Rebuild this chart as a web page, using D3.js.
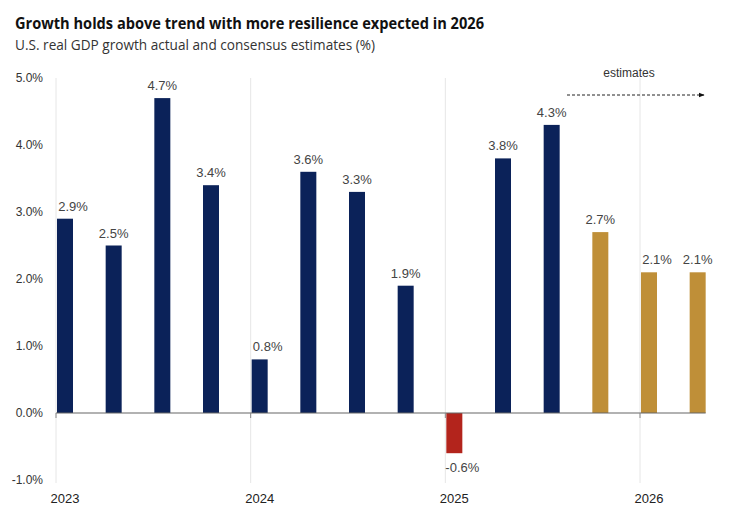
<!DOCTYPE html>
<html>
<head>
<meta charset="utf-8">
<script src="https://cdn.jsdelivr.net/npm/d3@7"></script>
<style>
  body { margin: 0; background: #fff; }
  svg { display: block; }
</style>
</head>
<body>
<script>
// chart data
var quarters = ["2023Q1","2023Q2","2023Q3","2023Q4","2024Q1","2024Q2","2024Q3","2024Q4",
                "2025Q1","2025Q2","2025Q3","2025Q4","2026Q1","2026Q2"];
var growth = [2.9, 2.5, 4.7, 3.4, 0.8, 3.6, 3.3, 1.9, -0.6, 3.8, 4.3, 2.7, 2.1, 2.1];
var isEstimate = [0,0,0,0,0,0,0,0,0,0,0,1,1,1];
var years = ["2023", "2024", "2025", "2026"];
var yTicks = [-1, 0, 1, 2, 3, 4, 5];

var w = 730, h = 516;

// plain hyphen minus, like the original
var pct = function(d){ return d.toFixed(1) + "%"; };

var svg = d3.select("body").append("svg")
    .attr("width", w)
    .attr("height", h);

// title + subtitle
svg.append("text")
    .attr("x", 15).attr("y", 29)
    .style("font-family", "'Open Sans', sans-serif")
    .style("font-weight", "bold")
    .style("font-size", "16.5px")
    .style("fill", "#111")
    .attr("textLength", 469)
    .attr("lengthAdjust", "spacingAndGlyphs")
    .text("Growth holds above trend with more resilience expected in 2026");

svg.append("text")
    .attr("x", 15).attr("y", 50)
    .style("font-family", "'Open Sans', sans-serif")
    .style("font-size", "14px")
    .style("fill", "#333")
    .attr("textLength", 360)
    .attr("lengthAdjust", "spacingAndGlyphs")
    .text("U.S. real GDP growth actual and consensus estimates (%)");

// scales: x by quarter index, one year = 4 quarters
var x = d3.scaleLinear()
    .domain([0, 12])
    .range([56, 640]);

var y = d3.scaleLinear()
    .domain([-1, 5])
    .range([480, 78]);

var barW = 16;

// year gridlines
svg.selectAll(".grid")
    .data(years)
    .enter()
    .append("line")
    .attr("class", "grid")
    .attr("x1", function(d, i){ return x(i * 4); })
    .attr("x2", function(d, i){ return x(i * 4); })
    .attr("y1", y(5))
    .attr("y2", y(-1) + 3)
    .style("stroke", "#e6e6e6")
    .style("stroke-width", 1);

// y axis labels
svg.selectAll(".ylab")
    .data(yTicks)
    .enter()
    .append("text")
    .attr("class", "ylab")
    .attr("x", 43)
    .attr("y", function(d){ return y(d) + 4; })
    .attr("text-anchor", "end")
    .style("font-family", "'Liberation Sans', Arial, sans-serif")
    .style("font-size", "12px")
    .style("fill", "#333")
    .text(pct);

// bars
svg.selectAll(".bar")
    .data(growth)
    .enter()
    .append("rect")
    .attr("class", "bar")
    .attr("x", function(d, i){ return x(i) + 1; })
    .attr("width", barW)
    .attr("y", function(d){ return y(Math.max(0, d)); })
    .attr("height", function(d){ return Math.abs(y(d) - y(0)); })
    .style("fill", function(d, i){
        if (isEstimate[i]) return "#bf8f38";
        if (d < 0) return "#b3241c";
        return "#0b2259";
    });

// baseline + year ticks
svg.append("line")
    .attr("x1", x(0)).attr("x2", x(13) + barW + 1)
    .attr("y1", y(0)).attr("y2", y(0))
    .style("stroke", "#666")
    .style("stroke-width", 1.2);

svg.selectAll(".tick")
    .data(years)
    .enter()
    .append("line")
    .attr("x1", function(d, i){ return x(i * 4); })
    .attr("x2", function(d, i){ return x(i * 4); })
    .attr("y1", y(0)).attr("y2", y(0) + 5)
    .style("stroke", "#888");

// year labels
svg.selectAll(".xlab")
    .data(years)
    .enter()
    .append("text")
    .attr("class", "xlab")
    .attr("x", function(d, i){ return x(i * 4) + 9; })
    .attr("y", 503)
    .attr("text-anchor", "middle")
    .style("font-family", "'Liberation Sans Narrow', 'Liberation Sans', Arial, sans-serif")
    .style("font-size", "13px")
    .style("fill", "#222")
    .text(function(d){ return d; });

// value labels
svg.selectAll(".vlab")
    .data(growth)
    .enter()
    .append("text")
    .attr("class", "vlab")
    .attr("x", function(d, i){
        //labels on year-start bars sit a bit right, clear of the gridline
        return x(i) + 9 + (i % 4 === 0 ? 8 : 0);
    })
    .attr("y", function(d){ return d < 0 ? y(d) + 19 : y(d) - 8; })
    .attr("text-anchor", "middle")
    .style("font-family", "'Liberation Sans', Arial, sans-serif")
    .style("font-size", "13px")
    .style("fill", "#444")
    .text(pct);

// estimates annotation
svg.append("defs").append("marker")
    .attr("id", "arrow")
    .attr("viewBox", "0 0 10 10")
    .attr("refX", 9).attr("refY", 5)
    .attr("markerWidth", 6).attr("markerHeight", 6)
    .attr("orient", "auto")
    .append("path")
    .attr("d", "M0,1 L10,5 L0,9 Z")
    .style("fill", "#111");

svg.append("line")
    .attr("x1", 567).attr("x2", 704)
    .attr("y1", 95).attr("y2", 95)
    .style("stroke", "#222")
    .style("stroke-width", 1)
    .style("stroke-dasharray", "3,2")
    .attr("marker-end", "url(#arrow)");

svg.append("text")
    .attr("x", 629).attr("y", 77)
    .attr("text-anchor", "middle")
    .style("font-family", "'Liberation Sans', Arial, sans-serif")
    .style("font-size", "12px")
    .style("fill", "#333")
    .text("estimates");
</script>
</body>
</html>
